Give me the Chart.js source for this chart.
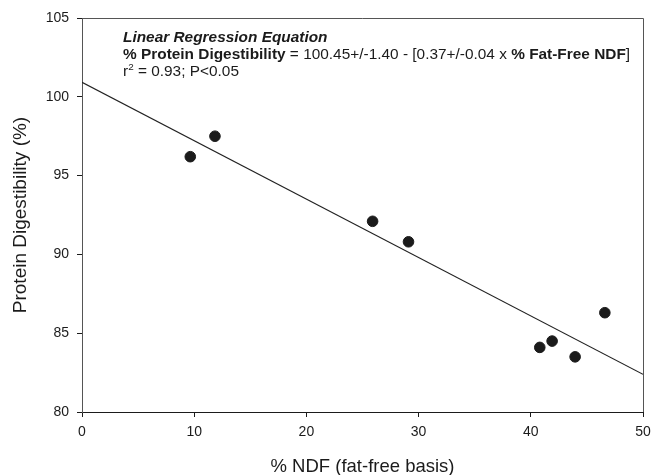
<!DOCTYPE html>
<html>
<head>
<meta charset="utf-8">
<script src="https://cdn.jsdelivr.net/npm/chart.js@4"></script>
<style>
  html, body { margin: 0; padding: 0; background: #fff; }
  #wrap { width: 653px; height: 475px; }
</style>
</head>
<body>
<div id="wrap"><canvas id="myChart" width="653" height="475"></canvas></div>
<script>
/* ---------- data ---------- */
const ndf = [9.65, 11.85, 25.9, 29.1, 40.8, 41.9, 43.95, 46.6];
const digest = [96.2, 97.5, 92.1, 90.8, 84.1, 84.5, 83.5, 86.3];

// fitted line at both ends of the x range
const fitX = [0, 50];
const fitY = [100.92, 82.39];

const xTicks = [0, 10, 20, 30, 40, 50];
const yTicks = [80, 85, 90, 95, 100, 105];

const FONT = "'Liberation Sans', Arial, sans-serif";
const INK = '#1b1b1b';

Chart.defaults.font.family = FONT;
Chart.defaults.color = INK;

/* ---------- equation text + frame ---------- */
const equationPlugin = {
    id: 'equation',
    afterDraw(chart) {
        const ctx = chart.ctx;
        const area = chart.chartArea;
        ctx.save();

        // top and right frame lines
        ctx.strokeStyle = '#555';
        ctx.lineWidth = 1;
        ctx.beginPath();
        ctx.moveTo(area.left, area.top + 0.5);
        ctx.lineTo(area.right + 0.5, area.top + 0.5);
        ctx.lineTo(area.right + 0.5, area.bottom);
        ctx.stroke();

        ctx.fillStyle = INK;
        ctx.textBaseline = 'alphabetic';
        const x0 = area.left + 41;
        const sx = 1.1; // text in the figure is a bit wide

        ctx.translate(x0, 0);
        ctx.scale(sx, 1);

        const runs = (parts, y) => {
            let x = 0;
            parts.forEach(([txt, font]) => {
                ctx.font = font;
                ctx.fillText(txt, x, y);
                x += ctx.measureText(txt).width;
            });
        };
        const reg = '14px ' + FONT;
        const bold = 'bold 14px ' + FONT;

        runs([['Linear Regression Equation', 'italic bold 14px ' + FONT]], area.top + 24);
        runs([
            ['% Protein Digestibility', bold],
            [' = 100.45+/-1.40 - [0.37+/-0.04 x ', reg],
            ['% Fat-Free NDF', bold],
            [']', reg]
        ], area.top + 41);

        // r² line
        ctx.font = reg;
        let x = 0;
        ctx.fillText('r', x, area.top + 58);
        x += ctx.measureText('r').width;
        ctx.font = '9px ' + FONT;
        ctx.fillText('2', x, area.top + 52);
        x += ctx.measureText('2').width;
        ctx.font = reg;
        ctx.fillText(' = 0.93; P<0.05', x, area.top + 58);

        ctx.restore();
    }
};

const data = {
    datasets: [{
        type: 'scatter',
        label: 'Samples',
        data: ndf.map((v, i) => ({ x: v, y: digest[i] })),
        backgroundColor: INK,
        borderColor: INK,
        pointRadius: 5.3,
        pointHoverRadius: 5.3
    }, {
        type: 'line',
        label: 'Fit',
        data: fitX.map((v, i) => ({ x: v, y: fitY[i] })),
        borderColor: '#222',
        borderWidth: 1.2,
        pointRadius: 0,
        fill: false
    }]
};

const config = {
    type: 'scatter',
    data: data,
    options: {
        responsive: false,
        animation: false,
        events: [],
        layout: {
            padding: { left: 0, top: 18, right: 10, bottom: 0 }
        },
        plugins: {
            legend: { display: false },
            tooltip: { enabled: false }
        },
        scales: {
            x: {
                type: 'linear',
                min: 0,
                max: 50,
                afterBuildTicks: (s) => { s.ticks = xTicks.map(v => ({ value: v })); },
                afterFit: (s) => {
                    s.height = 63;
                    s.paddingLeft = 0;
                    s.paddingRight = 0;
                },
                grid: { drawOnChartArea: false, drawTicks: true, tickLength: 5, color: INK },
                border: { display: true, color: INK, width: 1 },
                ticks: { font: { size: 14 }, padding: 7, maxRotation: 0 },
                title: {
                    display: true,
                    text: '% NDF (fat-free basis)',
                    font: { size: 18.5 },
                    padding: { top: 0, bottom: -3 }
                }
            },
            y: {
                type: 'linear',
                min: 80,
                max: 105,
                afterBuildTicks: (s) => { s.ticks = yTicks.map(v => ({ value: v })); },
                afterFit: (s) => {
                    s.width = 82;
                    s.paddingTop = 0;
                    s.paddingBottom = 0;
                },
                grid: { drawOnChartArea: false, drawTicks: true, tickLength: 5, color: INK },
                border: { display: true, color: '#555', width: 1 },
                ticks: { font: { size: 14 }, padding: 8 },
                title: {
                    display: true,
                    text: 'Protein Digestibility (%)',
                    font: { size: 19 },
                    padding: { top: 9, bottom: 0 }
                }
            }
        }
    },
    plugins: [equationPlugin]
};

const myChart = new Chart(
    document.getElementById('myChart'),
    config
);
</script>
</body>
</html>
